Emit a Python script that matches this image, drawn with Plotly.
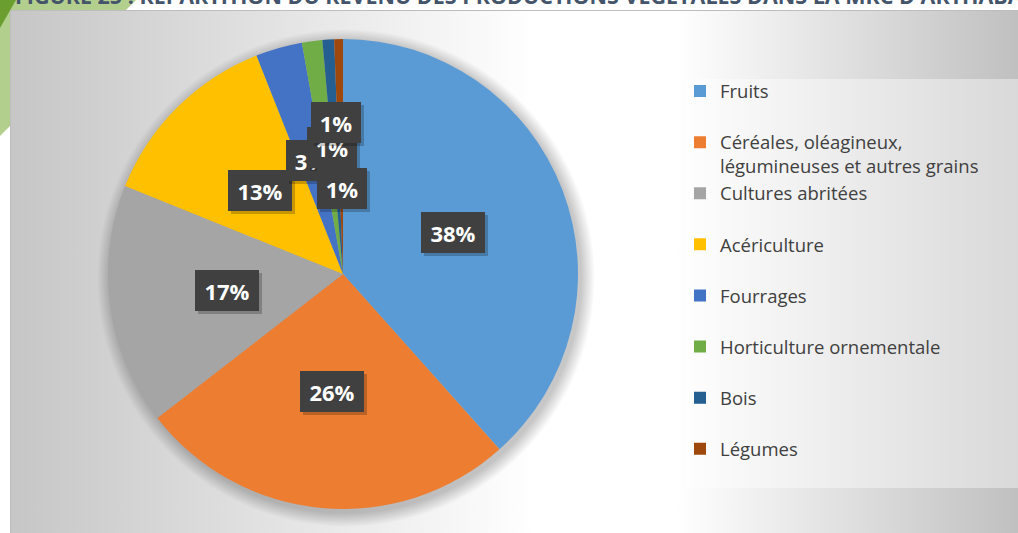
import base64
import math
import plotly.graph_objects as go

# ---------------- data ----------------
categories = [
    "Fruits",
    "Céréales, oléagineux,<br>légumineuses et autres grains",
    "Cultures abritées",
    "Acériculture",
    "Fourrages",
    "Horticulture ornementale",
    "Bois",
    "Légumes",
]
values = [38.4, 26.1, 16.6, 12.9, 3.2, 1.4, 0.8, 0.6]
colors = ["#5B9BD5", "#ED7D31", "#A5A5A5", "#FFC000",
          "#4472C4", "#70AD47", "#255E91", "#9E480E"]
title_text = "FIGURE 25 : RÉPARTITION DU REVENU DES PRODUCTIONS VÉGÉTALES DANS LA MRC D'ARTHABASKA"

# ---------------- geometry ----------------
W, H = 1018, 533
CX, CY, R = 343, 274, 235          # pie centre / radius in page pixels
LABEL_R = 0.5 * R
# nudges Excel applied to the crowded small labels (pixels)
label_nudge = {5: (4, -10), 6: (0, -34), 7: (1, 32)}

def px_x(x):
    return x / W

def px_y(y):
    return (H - y) / H

# legend entries: single-line names get a blank second line so rows are evenly spaced
legend_labels = [c if "<br>" in c else c + "<br>\u00a0" for c in categories]

# ---------------- background (svg) ----------------
svg = f'''<svg xmlns="http://www.w3.org/2000/svg" width="{W}" height="{H}" viewBox="0 0 {W} {H}" preserveAspectRatio="none">
<defs>
<linearGradient id="bg" gradientUnits="userSpaceOnUse" x1="10" y1="0" x2="{W}" y2="0">
<stop offset="0" stop-color="#c6c6c6"/>
<stop offset="0.52" stop-color="#ffffff"/>
<stop offset="0.66" stop-color="#ffffff"/>
<stop offset="1" stop-color="#c0c0c0"/>
</linearGradient>
<radialGradient id="sh" gradientUnits="userSpaceOnUse" cx="{CX+3}" cy="{CY+4}" r="{R+14}">
<stop offset="0" stop-color="#000000" stop-opacity="0.30"/>
<stop offset="{R/(R+14):.3f}" stop-color="#000000" stop-opacity="0.22"/>
<stop offset="1" stop-color="#000000" stop-opacity="0"/>
</radialGradient>
</defs>
<rect x="0" y="0" width="{W}" height="{H}" fill="#ffffff"/>
<polygon points="0,0 136,0 0,136" fill="#b3cf8e"/>
<polygon points="0,0 16,0 0,28" fill="#6a9e2e"/>
<rect x="10.5" y="10.5" width="{W-10}" height="{H-10}" fill="url(#bg)" stroke="#bdbdbd" stroke-width="1"/>
<circle cx="{CX+3}" cy="{CY+4}" r="{R+14}" fill="url(#sh)"/>
</svg>'''
bg_uri = "data:image/svg+xml;base64," + base64.b64encode(svg.encode("utf-8")).decode("ascii")

# ---------------- figure ----------------
fig = go.Figure()
fig.add_trace(go.Pie(
    labels=legend_labels,
    values=values,
    marker=dict(colors=colors, line=dict(width=0)),
    sort=False,
    direction="clockwise",
    rotation=0,
    textinfo="none",
    hole=0,
    domain=dict(x=[px_x(CX - R), px_x(CX + R)], y=[px_y(CY + R), px_y(CY - R)]),
    showlegend=True,
))

annotations = []
# clipped title at the very top
annotations.append(dict(
    text=title_text, xref="paper", yref="paper", x=px_x(13), y=px_y(12),
    xanchor="left", yanchor="bottom", showarrow=False,
    font=dict(family="Open Sans", size=21.5, color="#44546A", weight="bold"),
))

# data labels (dark boxes), positioned from the cumulative values
total = sum(values)
cum = 0.0
for i, v in enumerate(values):
    theta = 2 * math.pi * (cum + v / 2) / total
    cum += v
    lx = CX + LABEL_R * math.sin(theta)
    ly = CY - LABEL_R * math.cos(theta)
    nx, ny = label_nudge.get(i, (0, 0))
    lx += nx
    ly += ny
    txt = f"{int(v / total * 100 + 0.5)}%"
    bw = 22 + 14 * len(txt)
    # soft shadow
    annotations.append(dict(
        text=" ", xref="paper", yref="paper", x=px_x(lx + 3), y=px_y(ly + 3),
        xanchor="center", yanchor="middle", showarrow=False,
        width=bw, height=41, bgcolor="rgba(0,0,0,0.22)", borderwidth=0, borderpad=0,
    ))
    annotations.append(dict(
        text=txt, xref="paper", yref="paper", x=px_x(lx), y=px_y(ly),
        xanchor="center", yanchor="middle", showarrow=False,
        width=bw, height=41, bgcolor="#404040", borderwidth=0, borderpad=0,
        font=dict(family="Open Sans", size=22, color="#ffffff", weight="bold"),
    ))

fig.update_layout(
    width=W, height=H, autosize=False,
    margin=dict(l=0, r=0, t=0, b=0, pad=0),
    paper_bgcolor="#ffffff", plot_bgcolor="rgba(0,0,0,0)",
    images=[dict(source=bg_uri, xref="paper", yref="paper", x=0, y=1,
                 sizex=1, sizey=1, xanchor="left", yanchor="top",
                 sizing="stretch", layer="below")],
    shapes=[dict(type="rect", xref="paper", yref="paper",
                 x0=px_x(685), x1=1, y0=px_y(488), y1=px_y(79),
                 fillcolor="rgba(255,255,255,0.4)", line=dict(width=0), layer="below")],
    legend=dict(x=px_x(680), y=px_y(72.5), xanchor="left", yanchor="top",
                bgcolor="rgba(0,0,0,0)", borderwidth=0, valign="top",
                font=dict(family="Open Sans", size=18.5, color="#404040")),
    annotations=annotations,
)

fig.write_html(
    "out.html",
    config={"displayModeBar": False},
    post_script="document.body.style.margin='0';document.body.style.overflow='hidden';",
)
